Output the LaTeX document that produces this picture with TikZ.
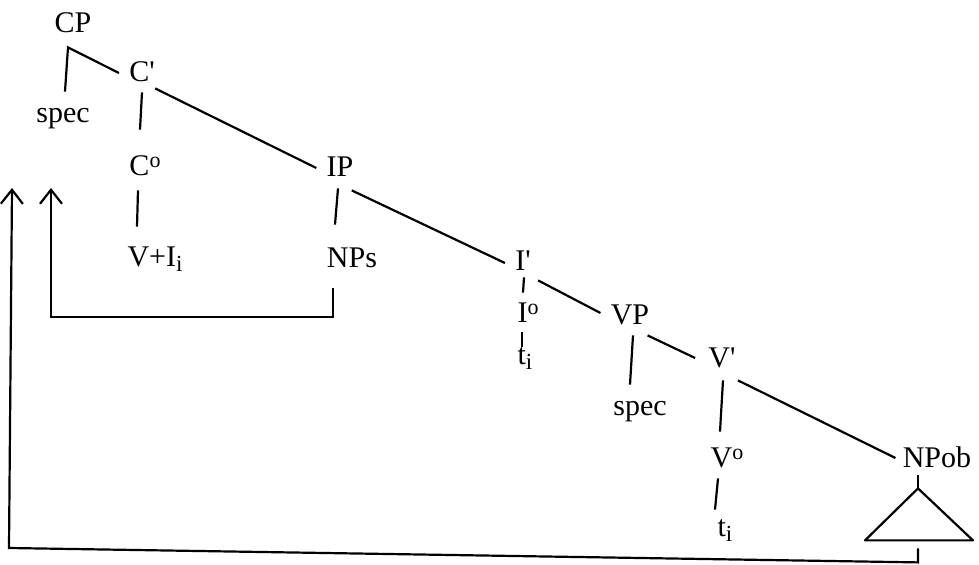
\documentclass[tikz,border=0pt]{standalone}
\usepackage{fontspec}
\setmainfont{Liberation Serif}
\usetikzlibrary{arrows.meta,calc}
\newcommand{\lowi}{\raisebox{-2.5pt}{\fontsize{11.5}{12}\selectfont i}}
\newcommand{\highO}{\raisebox{4.2pt}{\fontsize{11}{12}\selectfont o}}

\begin{document}
\begin{tikzpicture}[x=0.5pt,y=-0.5pt,
  lab/.style={anchor=base,inner sep=0pt,text height=10pt,text depth=3pt,font=\fontsize{15}{18}\selectfont},
  branch/.style={line width=1.1pt},
  move/.style={line width=1.1pt,-{Straight Barb[length=7pt,width=11pt,line width=1.1pt]}}]
  \useasboundingbox (0,0) rectangle (979,565);

  % labels of the tree (placed on their baselines)
  \node[lab] (CP) at (73,33) {CP};
  \node[lab] (C1) at (142,82) {C\textquotesingle};
  \node[lab] (spec1) at (63,123) {spec};
  \node[lab] (C0) at (145,176) {C\highO};
  \node[lab] (IP) at (340,177) {IP};
  \node[lab] (VI) at (155,267) {V+I\lowi};
  \node[lab] (NPs) at (352,268) {NPs};
  \node[lab] (I1) at (523,271) {I\textquotesingle};
  \node[lab] (I0) at (528,323) {I\highO};
  \node[lab] (tI) at (525,365) {t\lowi};
  \node[lab] (VP) at (630,325) {VP};
  \node[lab] (spec2) at (640,416) {spec};
  \node[lab] (V1) at (722,368) {V\textquotesingle};
  \node[lab] (V0) at (727,468) {V\highO};
  \node[lab] (tV) at (725,537) {t\lowi};
  \node[lab] (NPob) at (937,468) {NPob};

  % branches
  \draw[branch] ($(spec1.north)+(2,-11)$) -- ($(CP.south)+(-5,8)$) -- ($(C1.west)+(-10,-2)$);
  \draw[branch] ($(C1.south)+(0,4)$) -- ($(C0.north)+(-5,-26)$);
  \draw[branch] (C1.south east) -- ($(IP.west)+(-10,-2)$);
  \draw[branch] ($(C0.south)+(-7,8)$) -- ($(VI.north)+(-18,-20)$);
  \draw[branch] ($(IP.south)+(-2,5)$) -- ($(NPs.north)+(-17,-23)$);
  \draw[branch] ($(IP.south east)+(-2,7)$) -- ($(I1.west)+(-10,-1)$);
  \draw[branch] ($(I1.south)+(1,0)$) -- ($(I0.north)+(-5,-10)$);
  \draw[branch] ($(I0.south)+(-6,3)$) -- ($(tI.north)+(-3,2)$);
  \draw[branch] ($(I1.south east)+(7,3)$) -- ($(VP.west)+(-10,-5)$);
  \draw[branch] ($(VP.south)+(3,4)$) -- ($(spec2.north)+(-10,-11)$);
  \draw[branch] ($(VP.south east)+(-2,4)$) -- ($(V1.west)+(-13,-3)$);
  \draw[branch] ($(V1.south)+(1,6)$) -- ($(V0.north)+(-7,-16)$);
  \draw[branch] ($(V1.south east)+(2,6)$) -- ($(NPob.west)+(-7,-3)$);
  \draw[branch] ($(V0.south)+(-9,4)$) -- ($(tV.north)+(-10,-7)$);

  % triangle under NPob
  \coordinate (apex) at ($(NPob.south)+(-19,14)$);
  \draw[branch] ($(NPob.south)+(-19,1)$) -- (apex);
  \draw[branch,line join=round] (apex) -- ++(-53,52) -- ++(108,0) -- cycle;

  % movement lines
  \coordinate (arrI) at (51,188);
  \coordinate (arrO) at (12,188);
  \draw[move] ($(NPs.south)+(-19,14)$) -- ++(0,29) -| (arrI);
  \draw[move] ($(NPob.south)+(-19,74)$) -- ++(0,14) -- ($(arrO)+(-3,360)$) -- (arrO);
\end{tikzpicture}
\end{document}
